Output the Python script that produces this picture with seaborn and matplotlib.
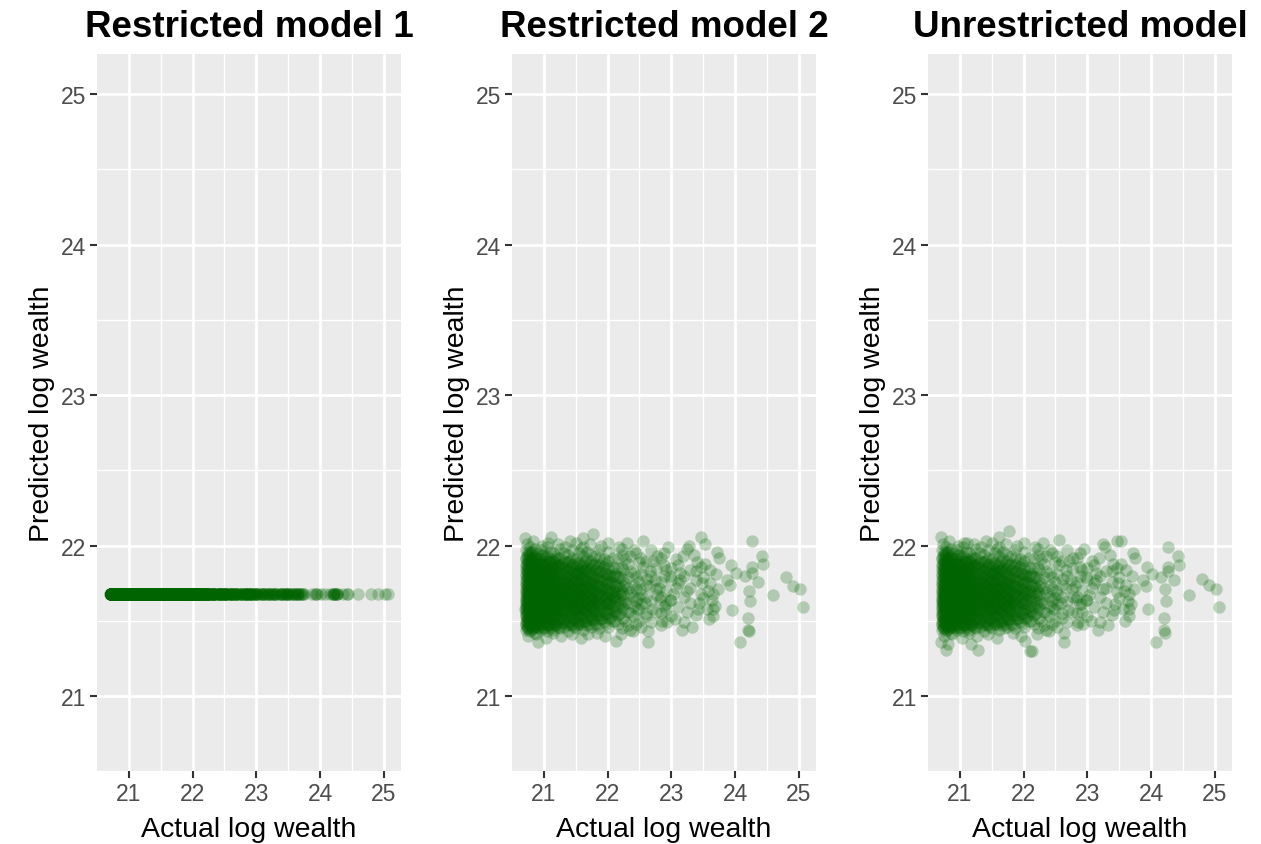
import numpy as np
import pandas as pd
import matplotlib
matplotlib.use("Agg")
import matplotlib.pyplot as plt
import seaborn as sns

# Dense core of the cloud: one column of points per actual log wealth value,
# predicted values (same in restricted model 2 and unrestricted model)
core_actual = [20.72, 20.75, 20.78, 20.82, 20.86, 20.90, 20.95, 21.00, 21.05, 21.10,
               21.15, 21.20, 21.26, 21.32, 21.38, 21.44, 21.50, 21.56, 21.62, 21.68,
               21.74, 21.80, 21.87, 21.94, 22.01, 22.08, 22.16, 22.24, 22.32, 22.41, 22.50,
               20.735, 20.765, 20.80, 20.84, 20.88, 20.925, 20.975, 21.025, 21.075,
               21.125, 21.175, 21.23, 21.29, 21.35, 21.41, 21.47, 21.53, 21.59, 21.65,
               21.71, 21.77, 21.83, 21.905, 21.975, 22.045, 22.12, 22.20,
               20.73, 20.76, 20.79, 20.83, 20.87, 20.92, 20.97, 21.02, 21.08, 21.13,
               21.18, 21.24, 21.30, 21.36, 21.42, 21.48, 21.54, 21.60, 21.66, 21.72,
               21.78, 21.85, 21.92, 21.99, 22.06, 22.14]
core_pred = [
    "21.44 21.47 21.50 21.53 21.56 21.58 21.61 21.63 21.66 21.68 21.71 21.74 21.77 21.80 21.84 21.88 21.92 21.97",
    "21.46 21.49 21.52 21.55 21.59 21.62 21.65 21.67 21.70 21.72 21.75 21.79 21.82 21.86 21.90 21.94",
    "21.43 21.48 21.51 21.54 21.57 21.60 21.64 21.66 21.69 21.73 21.76 21.78 21.81 21.85 21.89 21.95 21.99",
    "21.45 21.50 21.53 21.56 21.60 21.63 21.67 21.70 21.72 21.76 21.80 21.83 21.87 21.91 21.96",
    "21.42 21.47 21.52 21.55 21.58 21.61 21.64 21.68 21.71 21.74 21.77 21.81 21.85 21.88 21.93 21.98",
    "21.46 21.49 21.54 21.57 21.62 21.65 21.67 21.70 21.73 21.78 21.82 21.86 21.90 21.95",
    "21.44 21.48 21.51 21.56 21.59 21.63 21.66 21.69 21.72 21.75 21.79 21.84 21.87 21.92 21.97",
    "21.45 21.50 21.53 21.57 21.60 21.64 21.68 21.71 21.74 21.77 21.81 21.85 21.89 21.94",
    "21.43 21.47 21.52 21.55 21.59 21.62 21.66 21.69 21.73 21.76 21.80 21.83 21.88 21.93 21.99",
    "21.46 21.51 21.54 21.58 21.61 21.65 21.68 21.71 21.75 21.79 21.82 21.86 21.91 21.96",
    "21.44 21.49 21.53 21.57 21.60 21.63 21.67 21.70 21.74 21.78 21.81 21.85 21.90 21.95",
    "21.47 21.50 21.55 21.59 21.62 21.66 21.69 21.72 21.76 21.80 21.84 21.88 21.93",
    "21.45 21.49 21.54 21.57 21.61 21.64 21.68 21.71 21.75 21.78 21.83 21.87 21.92 21.98",
    "21.46 21.51 21.56 21.60 21.63 21.67 21.70 21.73 21.77 21.81 21.85 21.90 21.95",
    "21.43 21.48 21.53 21.58 21.62 21.65 21.69 21.72 21.76 21.80 21.84 21.89 21.94",
    "21.47 21.52 21.56 21.60 21.64 21.67 21.71 21.74 21.78 21.82 21.87 21.92 21.97",
    "21.45 21.50 21.55 21.59 21.63 21.66 21.70 21.73 21.77 21.81 21.86 21.91",
    "21.48 21.53 21.57 21.61 21.65 21.68 21.72 21.76 21.80 21.84 21.89 21.95",
    "21.44 21.50 21.55 21.59 21.63 21.67 21.71 21.75 21.79 21.83 21.88 21.93 21.99",
    "21.47 21.52 21.57 21.61 21.65 21.69 21.73 21.77 21.82 21.86 21.91 21.96",
    "21.46 21.51 21.56 21.60 21.64 21.68 21.72 21.76 21.81 21.85 21.90 21.94",
    "21.48 21.54 21.58 21.62 21.66 21.70 21.74 21.79 21.84 21.88 21.93",
    "21.45 21.51 21.56 21.61 21.65 21.69 21.73 21.78 21.83 21.87 21.92 21.97",
    "21.49 21.54 21.59 21.63 21.68 21.72 21.77 21.82 21.86 21.91",
    "21.46 21.52 21.57 21.62 21.67 21.71 21.76 21.81 21.85 21.90 21.96",
    "21.50 21.55 21.60 21.65 21.70 21.75 21.80 21.86 21.92",
    "21.48 21.54 21.59 21.64 21.69 21.74 21.79 21.85 21.91",
    "21.52 21.58 21.63 21.68 21.73 21.78 21.84 21.94",
    "21.47 21.56 21.62 21.67 21.72 21.79 21.88",
    "21.53 21.60 21.66 21.74 21.82 21.97",
    "21.50 21.58 21.65 21.76 21.89",
    "21.45 21.49 21.55 21.60 21.65 21.69 21.73 21.78 21.83 21.87 21.93 21.52 21.62",
    "21.47 21.51 21.57 21.62 21.66 21.71 21.75 21.80 21.85 21.91 21.58 21.68",
    "21.44 21.50 21.55 21.59 21.64 21.69 21.74 21.79 21.84 21.90 21.96 21.61",
    "21.46 21.52 21.58 21.62 21.66 21.70 21.75 21.81 21.86 21.92 21.64",
    "21.48 21.53 21.57 21.63 21.67 21.72 21.76 21.82 21.88 21.60 21.69",
    "21.45 21.51 21.56 21.61 21.65 21.69 21.74 21.80 21.85 21.91 21.63",
    "21.47 21.52 21.58 21.62 21.67 21.71 21.76 21.81 21.87 21.65",
    "21.46 21.51 21.56 21.61 21.64 21.70 21.75 21.80 21.86 21.92 21.67",
    "21.48 21.54 21.59 21.63 21.68 21.72 21.77 21.83 21.89 21.65",
    "21.45 21.52 21.57 21.62 21.66 21.70 21.75 21.81 21.87 21.68",
    "21.47 21.53 21.58 21.63 21.67 21.71 21.77 21.82 21.89 21.60",
    "21.46 21.52 21.57 21.62 21.66 21.70 21.74 21.80 21.86 21.92",
    "21.48 21.53 21.58 21.63 21.67 21.72 21.76 21.82 21.88 21.65",
    "21.47 21.52 21.57 21.61 21.66 21.70 21.75 21.80 21.86",
    "21.49 21.55 21.60 21.64 21.68 21.73 21.78 21.84 21.90 21.62",
    "21.46 21.52 21.57 21.62 21.66 21.71 21.76 21.82 21.88",
    "21.48 21.54 21.59 21.63 21.68 21.72 21.77 21.83 21.65",
    "21.47 21.53 21.58 21.62 21.67 21.71 21.76 21.82 21.87",
    "21.49 21.55 21.60 21.64 21.68 21.73 21.78 21.84 21.90",
    "21.48 21.54 21.59 21.63 21.67 21.71 21.76 21.83",
    "21.50 21.56 21.61 21.65 21.70 21.75 21.80 21.87",
    "21.47 21.53 21.59 21.64 21.68 21.73 21.79 21.86",
    "21.51 21.57 21.62 21.67 21.71 21.76 21.83",
    "21.48 21.55 21.61 21.66 21.70 21.75 21.81 21.88",
    "21.52 21.58 21.64 21.69 21.74 21.80",
    "21.50 21.57 21.63 21.68 21.73 21.81",
    "21.55 21.62 21.67 21.72 21.79",
    "21.48 21.54 21.59 21.64 21.70 21.75 21.81 21.86 21.91",
    "21.45 21.51 21.57 21.63 21.68 21.74 21.79 21.84 21.89 21.96",
    "21.47 21.53 21.58 21.65 21.71 21.77 21.83 21.88 21.93",
    "21.49 21.55 21.61 21.66 21.72 21.78 21.84 21.90",
    "21.46 21.51 21.57 21.63 21.69 21.75 21.80 21.86 21.92",
    "21.48 21.54 21.60 21.66 21.71 21.77 21.83 21.89",
    "21.46 21.53 21.59 21.64 21.70 21.76 21.82 21.88 21.94",
    "21.49 21.55 21.61 21.67 21.73 21.78 21.84 21.90",
    "21.47 21.53 21.58 21.64 21.70 21.77 21.83 21.89",
    "21.50 21.56 21.62 21.68 21.73 21.79 21.86",
    "21.48 21.54 21.60 21.65 21.71 21.77 21.84 21.91",
    "21.51 21.57 21.63 21.69 21.74 21.80 21.87",
    "21.49 21.55 21.61 21.66 21.72 21.78 21.85",
    "21.50 21.56 21.63 21.69 21.75 21.82 21.89",
    "21.48 21.54 21.60 21.66 21.73 21.79 21.86",
    "21.51 21.58 21.64 21.70 21.76 21.83",
    "21.49 21.55 21.62 21.68 21.74 21.81 21.88",
    "21.52 21.58 21.65 21.71 21.78 21.85",
    "21.50 21.57 21.63 21.70 21.76 21.83",
    "21.53 21.60 21.66 21.73 21.80 21.88",
    "21.51 21.58 21.64 21.71 21.78",
    "21.54 21.61 21.67 21.74 21.82",
    "21.52 21.59 21.66 21.73 21.80 21.89",
    "21.55 21.62 21.69 21.78",
    "21.53 21.61 21.68 21.76 21.84",
    "21.56 21.66 21.73 21.80",
]

# Middle band of the cloud (thinning out towards the tail)
mid_actual = [22.22, 22.28, 22.36, 22.44, 22.52, 22.60, 22.68, 22.76, 22.84,
              22.92, 23.00, 23.10, 23.20, 23.30, 23.38, 23.50, 23.58, 23.66]
mid_pred = [
    "21.45 21.60 21.70 21.86 21.98",
    "21.50 21.62 21.75 21.91",
    "21.44 21.55 21.69 21.83 21.93",
    "21.48 21.63 21.71 21.79 21.95",
    "21.46 21.61 21.68 21.81",
    "21.55 21.66 21.74 21.90",
    "21.49 21.63 21.80 21.97",
    "21.56 21.71 21.85",
    "21.47 21.66 21.76 21.92",
    "21.61 21.70 21.84",
    "21.53 21.64 21.77",
    "21.59 21.75 21.87",
    "21.49 21.66 21.80",
    "21.62 21.72",
    "21.54 21.83",
    "21.65 21.79",
    "21.70",
    "21.53 21.68",
]

# Loose points along the top and bottom edge of the core
edge_actual = [20.74, 20.83, 20.97, 21.06, 21.22, 21.33, 21.50, 21.58, 21.72, 21.90,
               22.00, 22.18, 22.30,
               20.76, 20.88, 21.03, 21.14, 21.27, 21.45, 21.58, 21.83, 21.96, 22.21, 22.40]
edge_pred = [22.01, 22.03, 22.00, 22.02, 22.01, 21.99, 22.02, 21.98, 22.01, 22.00,
             22.02, 21.99, 22.02,
             21.40, 21.41, 21.39, 21.42, 21.40, 21.41, 21.39, 21.42, 21.40, 21.41, 21.43]

# Edge and tail points: actual, restricted model 2 prediction, unrestricted prediction
tail_actual = [
    20.70, 21.12, 21.78, 21.62, 21.41, 20.91, 22.13, 21.70,
    20.71, 20.79, 20.81, 21.18, 21.29, 22.02, 22.10,
    24.27, 24.42, 24.43, 24.26, 24.27, 24.16, 24.36, 24.22, 24.24, 24.60,
    24.80, 24.90, 25.01, 25.06, 24.20, 24.20, 24.22, 24.08, 23.95, 24.02,
    23.94, 23.72, 23.74, 23.47, 23.52, 23.28, 23.24, 22.95, 22.56, 22.64,
    22.64, 23.32, 23.16, 23.59, 23.66, 23.63, 23.44, 23.46, 23.39, 23.47,
    23.70, 23.87, 23.92, 23.73, 23.61, 23.08, 23.14, 23.29, 23.24, 23.08,
    22.98, 22.88, 22.85, 23.06, 23.24, 23.42, 22.88, 22.77, 22.67, 22.74,
    22.88, 23.03, 23.48, 23.69, 23.56, 22.77, 22.56, 22.51, 22.46, 22.61,
    22.82, 22.93, 23.19, 23.35, 23.53, 23.61, 23.40, 23.14, 22.98, 22.67,
    22.88, 22.70, 22.72, 22.80, 22.59, 22.53, 22.92, 23.00, 22.62, 22.84,
]
tail_pred_r2 = [
    22.05, 22.06, 22.08, 22.05, 22.03, 21.36, 21.37, 21.41,
    21.58, 21.66, 21.55, 21.60, 21.70, 21.62, 21.66,
    22.03, 21.93, 21.88, 21.86, 21.82, 21.80, 21.76, 21.70, 21.63, 21.67,
    21.79, 21.73, 21.71, 21.59, 21.52, 21.44, 21.43, 21.36, 21.57, 21.82,
    21.87, 21.96, 21.92, 22.06, 22.01, 22.00, 21.98, 21.99, 22.03, 21.43,
    21.36, 21.46, 21.44, 21.51, 21.58, 21.64, 21.62, 21.68, 21.77, 21.86,
    21.81, 21.77, 21.74, 21.71, 21.75, 21.91, 21.82, 21.84, 21.70, 21.72,
    21.64, 21.60, 21.50, 21.51, 21.56, 21.58, 21.95, 21.93, 21.83, 21.77,
    21.87, 21.68, 21.75, 21.60, 21.58, 21.67, 21.86, 21.71, 21.58, 21.53,
    21.64, 21.49, 21.93, 21.94, 21.88, 21.84, 21.89, 21.77, 21.80, 21.73,
    21.80, 21.58, 21.90, 21.72, 21.62, 21.92, 21.57, 21.85, 21.78, 21.55,
]
tail_pred_unres = [
    22.06, 22.02, 22.10, 22.06, 22.03, 21.60, 21.30, 21.45,
    21.36, 21.31, 21.35, 21.35, 21.31, 21.37, 21.30,
    21.99, 21.93, 21.87, 21.86, 21.83, 21.79, 21.77, 21.71, 21.63, 21.67,
    21.78, 21.74, 21.71, 21.59, 21.52, 21.44, 21.42, 21.36, 21.58, 21.81,
    21.86, 21.95, 21.92, 22.03, 22.03, 21.99, 22.01, 21.98, 22.04, 21.42,
    21.36, 21.47, 21.44, 21.50, 21.58, 21.63, 21.61, 21.69, 21.76, 21.85,
    21.80, 21.77, 21.73, 21.71, 21.74, 21.90, 21.82, 21.83, 21.71, 21.72,
    21.64, 21.61, 21.49, 21.50, 21.56, 21.57, 21.95, 21.92, 21.84, 21.77,
    21.86, 21.67, 21.75, 21.61, 21.58, 21.66, 21.87, 21.70, 21.58, 21.52,
    21.64, 21.48, 21.92, 21.94, 21.88, 21.84, 21.88, 21.77, 21.79, 21.72,
    21.80, 21.57, 21.90, 21.73, 21.62, 21.93, 21.56, 21.85, 21.78, 21.55,
]

# Restricted model 1 predicts the same value for everyone
restricted1_pred = 21.68

titles = ["Restricted model 1", "Restricted model 2", "Unrestricted model"]

# build the data frame
actual, pred = [], []
for x, ys in zip(core_actual + mid_actual, core_pred + mid_pred):
    for y in ys.split():
        actual.append(x)
        pred.append(float(y))
actual += edge_actual
pred += edge_pred
df = pd.DataFrame({
    "actual": actual + tail_actual,
    "pred_r2": pred + tail_pred_r2,
    "pred_unres": pred + tail_pred_unres,
})
df["pred_r1"] = restricted1_pred

sns.set_style("darkgrid", {"axes.facecolor": "#EBEBEB", "grid.color": "white"})
plt.rcParams["font.family"] = ["Liberation Sans", "DejaVu Sans"]

fig = plt.figure(figsize=(12.61, 8.45), dpi=100)
lefts = [97, 512, 928]
lims = (20.503, 25.267)

for left, col, title in zip(lefts, ["pred_r1", "pred_r2", "pred_unres"], titles):
    ax = fig.add_axes([left / 1261, 73 / 845, 304 / 1261, 717 / 845])
    sns.scatterplot(data=df, x="actual", y=col, ax=ax, color="#006400",
                    alpha=0.25, s=80, linewidth=0, legend=False)
    ax.set_xlim(lims)
    ax.set_ylim(lims)
    ax.set_xticks([21, 22, 23, 24, 25])
    ax.set_yticks([21, 22, 23, 24, 25])
    ax.set_xticks([21.5, 22.5, 23.5, 24.5], minor=True)
    ax.set_yticks([21.5, 22.5, 23.5, 24.5], minor=True)
    ax.grid(which="major", color="white", linewidth=2.0)
    ax.grid(which="minor", color="white", linewidth=1.0)
    ax.set_axisbelow(True)
    for s in ax.spines.values():
        s.set_visible(False)
    ax.tick_params(which="major", length=5, width=1.5, color="#333333",
                   labelcolor="#4D4D4D", labelsize=16.5, pad=3,
                   bottom=True, left=True)
    ax.tick_params(which="minor", length=0)
    ax.set_xlabel("Actual log wealth", fontsize=20.5, color="black", labelpad=8)
    ax.set_ylabel("Predicted log wealth", fontsize=20.5, color="black", labelpad=4)
    ax.set_title(title, fontsize=26.5, fontweight="bold", color="black", pad=13)

fig.savefig("out.png", dpi=100)
